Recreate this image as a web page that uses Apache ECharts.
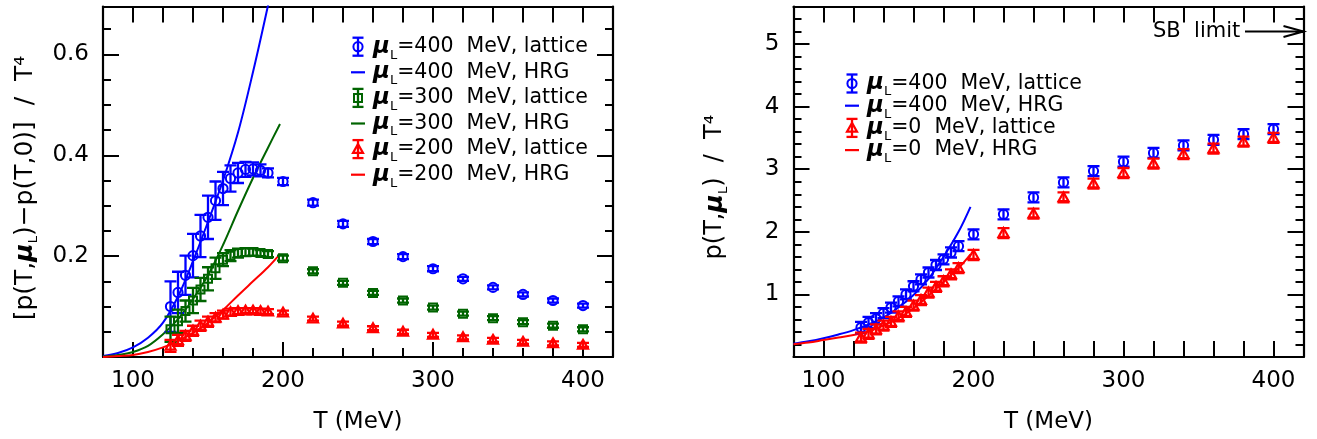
<!DOCTYPE html>
<html><head><meta charset="utf-8">
<script src="https://cdn.jsdelivr.net/npm/echarts@6/dist/echarts.min.js"></script>
<style>html,body{margin:0;padding:0;background:#fff}#c{width:1317px;height:439px}</style>
</head><body><div id="c"></div>
<script>
// ---------------- data ----------------
const T_LAT = [125,130,135,140,145,150,155,160,165,170,175,180,185,190,200,220,240,260,280,300,320,340,360,380,400];

// left panel: [p(T,muL)-p(T,0)]/T^4
const L400     = [0.100,0.128,0.162,0.201,0.240,0.277,0.310,0.334,0.354,0.365,0.372,0.373,0.370,0.365,0.348,0.306,0.264,0.229,0.199,0.175,0.155,0.138,0.124,0.112,0.102];
const L400_ERR = [0.050,0.041,0.039,0.043,0.042,0.043,0.038,0.033,0.026,0.020,0.015,0.013,0.012,0.009,0.007,0.006,0.006,0.005,0.005,0.005,0.004,0.004,0.004,0.004,0.004];
const L300     = [0.055,0.071,0.091,0.112,0.134,0.155,0.176,0.193,0.201,0.206,0.208,0.208,0.206,0.204,0.196,0.170,0.147,0.127,0.112,0.098,0.086,0.077,0.069,0.062,0.055];
const L300_ERR = [0.025,0.023,0.021,0.025,0.023,0.023,0.021,0.013,0.011,0.009,0.008,0.007,0.006,0.006,0.005,0.004,0.004,0.004,0.004,0.004,0.004,0.004,0.004,0.004,0.004];
const L200     = [0.022,0.033,0.042,0.052,0.062,0.070,0.078,0.084,0.089,0.091,0.092,0.092,0.091,0.090,0.088,0.076,0.066,0.057,0.050,0.044,0.039,0.034,0.030,0.027,0.024];
const L200_ERR = [0.012,0.011,0.010,0.010,0.010,0.010,0.009,0.008,0.007,0.006,0.005,0.005,0.005,0.005,0.004,0.004,0.004,0.004,0.004,0.004,0.004,0.004,0.004,0.004,0.004];

// right panel: p(T,muL)/T^4
const R400     = [0.47,0.55,0.61,0.70,0.79,0.89,1.00,1.13,1.24,1.35,1.47,1.56,1.67,1.77,1.96,2.28,2.55,2.79,2.97,3.12,3.26,3.38,3.47,3.56,3.64];
const R400_ERR = [0.09,0.09,0.09,0.08,0.08,0.08,0.08,0.08,0.08,0.08,0.08,0.08,0.08,0.08,0.08,0.08,0.08,0.08,0.08,0.08,0.08,0.08,0.08,0.08,0.08];
const R0       = [0.31,0.37,0.44,0.50,0.56,0.65,0.72,0.82,0.91,1.03,1.12,1.21,1.32,1.42,1.63,1.98,2.29,2.55,2.77,2.94,3.09,3.24,3.33,3.44,3.50];
const R0_ERR   = [0.08,0.08,0.08,0.08,0.08,0.08,0.08,0.08,0.08,0.08,0.08,0.08,0.08,0.08,0.08,0.08,0.08,0.08,0.08,0.08,0.08,0.08,0.08,0.08,0.08];

// HRG curves
const T_HRG    = [80,90,100,110,120,130,140,150,160,170,180,190,198];
const HRG_L400 = [0.002,0.008,0.019,0.038,0.068,0.120,0.190,0.268,0.350,0.445,0.565,0.697,0.810];
const HRG_L300 = [0.001,0.004,0.010,0.022,0.045,0.075,0.115,0.162,0.222,0.290,0.355,0.415,0.462];
const HRG_L200 = [0.000,0.002,0.004,0.010,0.019,0.032,0.048,0.068,0.093,0.122,0.150,0.178,0.204];
const HRG_R400 = [0.21,0.25,0.30,0.36,0.43,0.52,0.63,0.79,0.99,1.25,1.60,2.00,2.40];
const HRG_R0   = [0.205,0.23,0.27,0.31,0.35,0.41,0.50,0.62,0.78,0.98,1.20,1.42,1.64];

// ticks / labels
const X_LABELS   = [100,200,300,400];
const YL_LABELS  = [0.2,0.4,0.6];
const YR_LABELS  = [1,2,3,4,5];
const SB_LIMIT   = 5.2;

const LEGEND_L = [
  ['lat','#0000ff','circle','400','lattice'],
  ['hrg','#0000ff','','400','HRG'],
  ['lat','#006400','square','300','lattice'],
  ['hrg','#006400','','300','HRG'],
  ['lat','#ff0000','triangle','200','lattice'],
  ['hrg','#ff0000','','200','HRG']
];
const LEGEND_R = [
  ['lat','#0000ff','circle','400','lattice'],
  ['hrg','#0000ff','','400','HRG'],
  ['lat','#ff0000','triangle','0','lattice'],
  ['hrg','#ff0000','','0','HRG']
];

// ---------------- chart ----------------
const FONT = "'DejaVu Sans', sans-serif";
const BLUE = '#0000ff', GREEN = '#006400', RED = '#ff0000';
const chart = echarts.init(document.getElementById('c'), null, {renderer: 'canvas'});

function markerEl(shape, x, y, color, s) {
  const st = {stroke: color, lineWidth: 2, fill: 'none'};
  if (shape === 'circle') return {type: 'circle', shape: {cx: x, cy: y, r: 4.6 * s}, style: st};
  if (shape === 'square') return {type: 'rect', shape: {x: x - 4 * s, y: y - 4 * s, width: 8 * s, height: 8 * s}, style: st};
  return {type: 'polygon', shape: {points: [[x, y - 5 * s], [x + 5 * s, y + 3.8 * s], [x - 5 * s, y + 3.8 * s]]}, style: {stroke: color, lineWidth: 2.2, fill: 'none'}};
}

function errSeries(xi, yi, T, V, E, color, shape, hc) {
  return {
    type: 'custom', xAxisIndex: xi, yAxisIndex: yi, clip: true, z: 3,
    data: T.map((t, i) => [t, V[i], E[i]]),
    renderItem: function (params, api) {
      const t = api.value(0), v = api.value(1), e = api.value(2);
      const c = api.coord([t, v]), lo = api.coord([t, v - e]), hi = api.coord([t, v + e]);
      const st = {stroke: color, lineWidth: 2.3, fill: 'none'};
      return {type: 'group', children: [
        {type: 'line', shape: {x1: c[0], y1: lo[1], x2: c[0], y2: hi[1]}, style: st},
        {type: 'line', shape: {x1: c[0] - hc, y1: lo[1], x2: c[0] + hc, y2: lo[1]}, style: st},
        {type: 'line', shape: {x1: c[0] - hc, y1: hi[1], x2: c[0] + hc, y2: hi[1]}, style: st},
        markerEl(shape, c[0], c[1], color, 1)
      ]};
    }
  };
}

function lineSeries(xi, yi, T, V, color) {
  return {
    type: 'line', xAxisIndex: xi, yAxisIndex: yi, data: T.map((t, i) => [t, V[i]]),
    showSymbol: false, smooth: 0.35, clip: true, z: 2,
    lineStyle: {color: color, width: 2}, itemStyle: {color: color}
  };
}

const tickStyle = {color: '#000', width: 2};
const lineStyle = {color: '#000', width: 2.2};
const labelStyle = {color: '#000', fontSize: 23, fontFamily: FONT};

function near(list, v) { return list.some(a => Math.abs(a - v) < 1e-6); }

function xAxesFor(g, bottomMinor, bottomMajor, topLen) {
  const axes = [{
    gridIndex: g, type: 'value', position: 'bottom', min: 80, max: 420, interval: 20,
    axisLine: {show: true, onZero: false, lineStyle: lineStyle},
    axisTick: {show: true, inside: true, length: bottomMinor, lineStyle: tickStyle},
    axisLabel: Object.assign({margin: 13, formatter: v => near(X_LABELS, v) ? String(v) : ''}, labelStyle),
    splitLine: {show: false},
    name: 'T (MeV)', nameLocation: 'middle', nameGap: 54,
    nameTextStyle: {color: '#000', fontSize: 23, fontFamily: FONT}
  }];
  if (bottomMajor) axes.push({
    gridIndex: g, type: 'value', position: 'bottom', min: 80, max: 420,
    axisLine: {show: false}, axisLabel: {show: false}, splitLine: {show: false},
    axisTick: {show: true, inside: true, length: bottomMajor, lineStyle: tickStyle, customValues: X_LABELS}
  });
  axes.push({
    gridIndex: g, type: 'value', position: 'top', min: 80, max: 420, interval: 20,
    axisLine: {show: true, onZero: false, lineStyle: lineStyle},
    axisTick: {show: true, inside: true, length: topLen, lineStyle: tickStyle},
    axisLabel: {show: false}, splitLine: {show: false}
  });
  return axes;
}

function yAxesFor(g, max, minorInt, majorInt, labels, fmt) {
  const base = {gridIndex: g, type: 'value', min: 0, max: max, splitLine: {show: false}};
  return [
    Object.assign({}, base, {position: 'left', interval: minorInt,
      axisLine: {show: true, onZero: false, lineStyle: lineStyle},
      axisTick: {show: true, inside: true, length: 8, lineStyle: tickStyle},
      axisLabel: Object.assign({margin: 14, showMinLabel: false, showMaxLabel: false,
        formatter: v => near(labels, v) ? fmt(v) : ''}, labelStyle)}),
    Object.assign({}, base, {position: 'left', interval: majorInt,
      axisLine: {show: false}, axisLabel: {show: false},
      axisTick: {show: true, inside: true, length: 16, lineStyle: tickStyle}}),
    Object.assign({}, base, {position: 'right', interval: minorInt,
      axisLine: {show: true, onZero: false, lineStyle: lineStyle},
      axisTick: {show: true, inside: true, length: 8, lineStyle: tickStyle},
      axisLabel: {show: false}}),
    Object.assign({}, base, {position: 'right', interval: majorInt,
      axisLine: {show: false}, axisLabel: {show: false},
      axisTick: {show: true, inside: true, length: 16, lineStyle: tickStyle}})
  ];
}

const xAxes = xAxesFor(0, 9, 15, 16).concat(xAxesFor(1, 16, 0, 16)); // grid0: 0,1,2  grid1: 3,4
const yAxes = yAxesFor(0, 0.695, 0.05, 0.2, YL_LABELS, v => v.toFixed(1))
  .concat(yAxesFor(1, 5.6, 0.2, 1, YR_LABELS, v => String(Math.round(v)))); // grid0: 0..3, grid1: 4..7

const series = [
  errSeries(0, 0, T_LAT, L400, L400_ERR, BLUE, 'circle', 6),
  errSeries(0, 0, T_LAT, L300, L300_ERR, GREEN, 'square', 6),
  errSeries(0, 0, T_LAT, L200, L200_ERR, RED, 'triangle', 6),
  lineSeries(0, 0, T_HRG, HRG_L400, BLUE),
  lineSeries(0, 0, T_HRG, HRG_L300, GREEN),
  lineSeries(0, 0, T_HRG, HRG_L200, RED),
  errSeries(3, 4, T_LAT, R400, R400_ERR, BLUE, 'circle', 6),
  errSeries(3, 4, T_LAT, R0, R0_ERR, RED, 'triangle', 6),
  lineSeries(3, 4, T_HRG, HRG_R400, BLUE),
  lineSeries(3, 4, T_HRG, HRG_R0, RED)
];

const RICH = {
  mu: {fontSize: 23, fontFamily: FONT, fontStyle: 'italic', fontWeight: 'bold', fill: '#000', lineHeight: 30},
  sub: {fontSize: 13, fontFamily: FONT, fill: '#000', verticalAlign: 'bottom', lineHeight: 13},
  t: {fontSize: 20.5, fontFamily: FONT, fill: '#000', lineHeight: 30},
  n: {fontSize: 24, fontFamily: FONT, fill: '#000', lineHeight: 30},
  nl: {fontSize: 25, fontFamily: FONT, fill: '#000', lineHeight: 30},
  mub: {fontSize: 25, fontFamily: FONT, fontStyle: 'italic', fontWeight: 'bold', fill: '#000', lineHeight: 30}
};

function legendEls(rows, sx, tx, y0, dy) {
  const els = [];
  rows.forEach((r, i) => {
    const y = y0 + i * dy;
    const [kind, color, shape, mu, what] = r;
    if (kind === 'hrg') {
      els.push({type: 'line', shape: {x1: sx - 7, y1: y, x2: sx + 7, y2: y}, style: {stroke: color, lineWidth: 2.2}});
    } else {
      const st = {stroke: color, lineWidth: 2.3};
      els.push({type: 'line', shape: {x1: sx, y1: y - 9, x2: sx, y2: y + 9}, style: st});
      els.push({type: 'line', shape: {x1: sx - 5.5, y1: y - 9, x2: sx + 5.5, y2: y - 9}, style: st});
      els.push({type: 'line', shape: {x1: sx - 5.5, y1: y + 9, x2: sx + 5.5, y2: y + 9}, style: st});
      els.push(markerEl(shape, sx, y, color, 1));
    }
    els.push({type: 'text', x: tx, y: y, style: {
      text: '{mu|μ}{sub|L}{t|=' + mu + '\u00a0\u00a0MeV, ' + what + '}',
      rich: RICH, verticalAlign: 'middle', align: 'left'}});
  });
  return els;
}

chart.setOption({
  animation: false,
  backgroundColor: '#fff',
  grid: [
    {left: 103, top: 6.5, width: 510, height: 353},
    {left: 793.5, top: 6.5, width: 510, height: 353.5}
  ],
  xAxis: xAxes,
  yAxis: yAxes,
  series: series
});

const sbPix = chart.convertToPixel({gridIndex: 1}, [400, SB_LIMIT]);
const sbY = sbPix[1];
const rightEdge = 1303.5;

chart.setOption({
  graphic: {elements: [
    {type: 'group', children: legendEls(LEGEND_L, 358, 373, 46.7, 25.6)},
    {type: 'group', children: legendEls(LEGEND_R, 852, 867, 83.5, 22.2)},
    {type: 'text', x: 25, y: 188, rotation: Math.PI / 2, style: {
      text: '{nl|[p(T,}{mub|μ}{sub|L}{nl|)−p(T,0)]\u00a0\u00a0/\u00a0\u00a0T⁴}',
      rich: RICH, align: 'center', verticalAlign: 'middle'}},
    {type: 'text', x: 715, y: 187, rotation: Math.PI / 2, style: {
      text: '{n|p(T,}{mub|μ}{sub|L}{n|)\u00a0\u00a0/\u00a0\u00a0T⁴}',
      rich: RICH, align: 'center', verticalAlign: 'middle'}},
    {type: 'text', x: 1153, y: sbY, style: {text: 'SB\u00a0\u00a0limit', fontSize: 21, fontFamily: FONT, fill: '#000', verticalAlign: 'middle', align: 'left'}},
    {type: 'polyline', shape: {points: [[1245, sbY], [rightEdge, sbY]]}, style: {stroke: '#000', lineWidth: 2, fill: 'none'}},
    {type: 'polyline', shape: {points: [[rightEdge - 20, sbY - 5.5], [rightEdge, sbY], [rightEdge - 20, sbY + 5.5]]}, style: {stroke: '#000', lineWidth: 2, fill: 'none'}}
  ]}
});
</script>
</body></html>
